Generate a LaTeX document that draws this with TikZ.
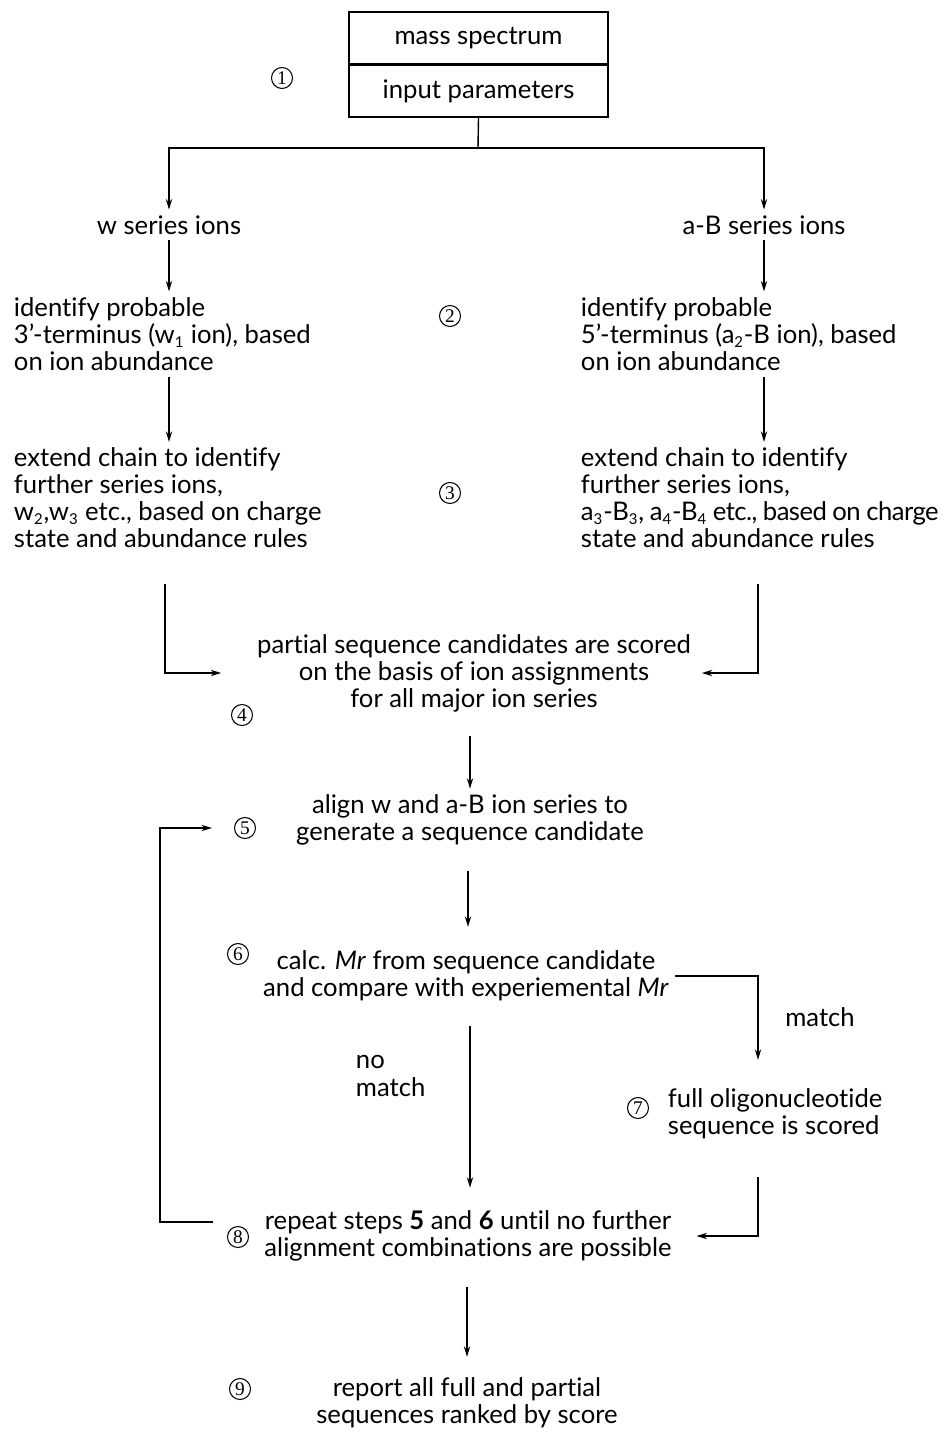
\documentclass[tikz,border=0pt]{standalone}
\usepackage{fontspec}
\setmainfont{Lato}[Ligatures={TeX,NoCommon}]
\newfontfamily\numfont{Liberation Serif}
\usetikzlibrary{arrows.meta}

% small ion subscripts
\newcommand{\ionsub}[1]{\textsubscript{\fontsize{8.5}{8.5}\selectfont#1}}
% a slightly tighter line
\newcommand{\tightline}[1]{{\addfontfeature{LetterSpace=-2.2}\spaceskip=0.22em plus 0.1em#1}}

\tikzset{
  txt/.style={font=\fontsize{14.6}{15.4}\selectfont, inner sep=3pt},
  arr/.style={-{Stealth[length=6pt,width=3.6pt]}},
  num/.style={circle, draw, line width=0.6pt, inner sep=0pt, minimum size=0.42cm,
    font=\numfont\fontsize{11}{11}\selectfont},
  inbox/.style={draw, txt, minimum width=5.18cm, minimum height=1.04cm}
}

\begin{document}
\begin{tikzpicture}[x=0.02cm, y=-0.02cm, line width=0.8pt]
	\useasboundingbox (0,0) rectangle (945,1432);

	% input
	\node[inbox] (spec) at (478.5,38) {mass spectrum};
	\node[inbox] (param) at (478.5,91) {input parameters};
	\node[num] (n1) at (282,78) {1};

	% the two ion series
	\node[txt] (wser) at (169,225) {w series ions};
	\node[txt] (abser) at (764,225) {a-B series ions};
	\coordinate (split) at (478,148);
	\draw (param.south) -- (split);
	\draw[arr] (split) -| (wser.north);
	\draw[arr] (split) -| (abser.north);

	\node[txt, anchor=west, align=left] (wid) at (8,334)
		{identify probable\\3'-terminus (w\ionsub{1} ion), based\\on ion abundance};
	\node[txt, anchor=west, align=left] (abid) at (575,334)
		{identify probable\\5'-terminus (a\ionsub{2}-B ion), based\\on ion abundance};
	\node[num] (n2) at (450,316) {2};
	\draw[arr] (wser.south) -- (wser |- wid.north);
	\draw[arr] (abser.south) -- (abser |- abid.north);

	\node[txt, anchor=west, align=left] (wext) at (8,498)
		{extend chain to identify\\further series ions,\\w\ionsub{2},w\ionsub{3} etc., based on charge\\state and abundance rules};
	\node[txt, anchor=west, align=left] (abext) at (575,498)
		{extend chain to identify\\further series ions,\\\tightline{a\ionsub{3}-B\ionsub{3}, a\ionsub{4}-B\ionsub{4} etc., based on charge}\\state and abundance rules};
	\node[num] (n3) at (450,493) {3};
	\draw[arr] (wser |- wid.south) -- (wser |- wext.north);
	\draw[arr] (abser |- abid.south) -- (abser |- abext.north);

	% scoring and alignment
	\node[txt, align=center] (score) at (474,673)
		{partial sequence candidates are scored\\on the basis of ion assignments\\for all major ion series};
	\node[num] (n4) at (242,715) {4};
	\draw[arr] ([xshift=-0.08cm, yshift=-0.6cm]wser |- wext.south) |- ([xshift=-0.6cm]score.west);
	\draw[arr] ([xshift=-0.12cm, yshift=-0.6cm]abser |- abext.south) |- ([xshift=0.1cm]score.east);

	\node[txt, align=center] (align) at (470,820)
		{align w and a-B ion series to\\generate a sequence candidate};
	\node[num] (n5) at (245,828) {5};
	\draw[arr, shorten <=0.36cm] (score.south -| align) -- (align.north);

	\node[txt, align=center] (calc) at (466,976)
		{calc. \textit{Mr} from sequence candidate\\and compare with experiemental \textit{Mr}};
	\node[num] (n6) at (238,954) {6};
	\draw[arr, shorten <=0.4cm, shorten >=0.36cm] (align.south -| 468,0) -- (468,0 |- calc.north);

	% match / no match
	\coordinate (rlane) at (758,0);
	\coordinate (llane) at (160,0);
	\node[txt, anchor=west, align=left] (full) at (662,1114)
		{full oligonucleotide\\sequence is scored};
	\node[num] (n7) at (638,1108) {7};
	\node[txt] (match) at (820,1017) {match};
	\draw[arr] (calc.east) -| ([yshift=0.46cm]rlane |- full.north);

	\node[txt, align=center] (repeat) at (468,1236)
		{repeat steps \textbf{5} and \textbf{6} until no further\\alignment combinations are possible};
	\node[num] (n8) at (238,1237) {8};
	\node[txt, anchor=west, align=left] (nomatch) at (350,1076) {no\\match};
	\draw[arr, shorten <=0.38cm, shorten >=0.34cm] (align |- calc.south) -- (align |- repeat.north);
	\draw[arr] ([yshift=-0.64cm]rlane |- full.south) |- ([xshift=0.38cm]repeat.east);
	\draw[arr] ([xshift=-0.28cm, yshift=0.3cm]n8.west) -| (llane |- n5) -- ([xshift=-0.44cm]n5.west);

	% final report
	\node[txt, align=center] (report) at (467,1403)
		{report all full and partial\\sequences ranked by score};
	\node[num] (n9) at (240,1389) {9};
	\draw[arr, shorten <=0.4cm, shorten >=0.3cm] (repeat.south -| report) -- (report.north);
\end{tikzpicture}
\end{document}
